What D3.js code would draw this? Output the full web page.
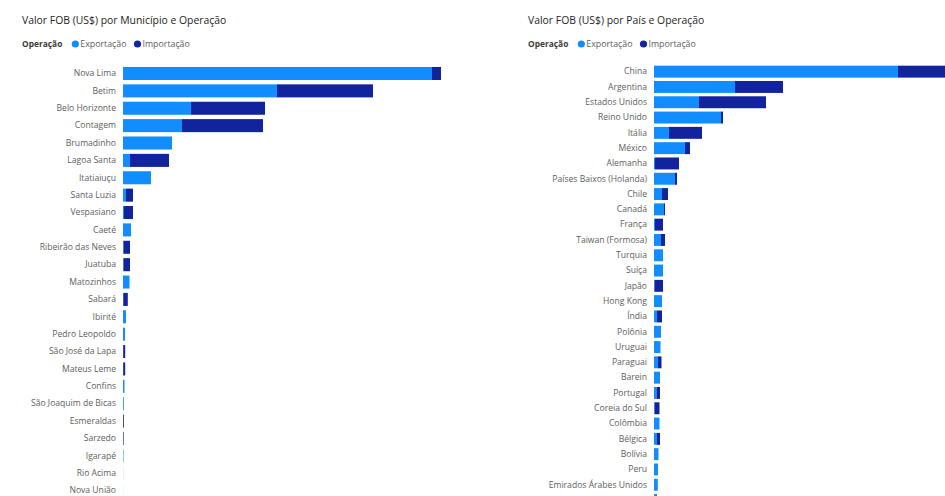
<!DOCTYPE html>
<html>
<head>
<meta charset="utf-8">
<script src="https://cdn.jsdelivr.net/npm/d3@7"></script>
<style>
  html, body { margin: 0; padding: 0; background: #fff; }
  svg { display: block; font-family: "Segoe UI", "Open Sans", "Noto Sans", sans-serif; }
</style>
</head>
<body>
<svg id="chart" width="945" height="496"></svg>
<script>
// Valor FOB (US$ milhões) por município e por país, separado por operação
const municipios = ["Nova Lima", "Betim", "Belo Horizonte", "Contagem", "Brumadinho", "Lagoa Santa",
  "Itatiaiuçu", "Santa Luzia", "Vespasiano", "Caeté", "Ribeirão das Neves", "Juatuba", "Matozinhos",
  "Sabará", "Ibirité", "Pedro Leopoldo", "São José da Lapa", "Mateus Leme", "Confins",
  "São Joaquim de Bicas", "Esmeraldas", "Sarzedo", "Igarapé", "Rio Acima", "Nova União"];
const exportMun = [3090, 1540, 680, 590, 490, 70, 280, 30, 10, 80, 5, 5, 65, 3, 30, 20, 2, 2, 15, 8, 1, 1, 5, 1, 0.5];
const importMun = [90, 960, 740, 810, 0, 390, 0, 70, 90, 0, 65, 65, 0, 45, 0, 0, 20, 20, 0, 0, 8, 6, 0, 0, 0];

const paises = ["China", "Argentina", "Estados Unidos", "Reino Unido", "Itália", "México", "Alemanha",
  "Países Baixos (Holanda)", "Chile", "Canadá", "França", "Taiwan (Formosa)", "Turquia", "Suíça", "Japão",
  "Hong Kong", "Índia", "Polônia", "Uruguai", "Paraguai", "Barein", "Portugal", "Coreia do Sul",
  "Colômbia", "Bélgica", "Bolívia", "Peru", "Emirados Árabes Unidos", "Austrália"];
const exportPais = [2440, 810, 450, 670, 150, 310, 10, 210, 80, 100, 10, 70, 90, 90, 5, 80, 30, 70, 65, 40, 60, 25, 5, 55, 30, 45, 40, 38, 30];
const importPais = [470, 480, 670, 20, 330, 50, 240, 20, 60, 10, 80, 40, 0, 0, 85, 0, 50, 0, 0, 35, 0, 35, 50, 0, 30, 0, 0, 0, 0];

const operacoes = ["Exportação", "Importação"];
const cores = ["#118DFF", "#12239E"];

const W = 945, H = 496;
const svg = d3.select("#chart");
const fonte = "\"Segoe UI\", \"Open Sans\", \"Noto Sans\", sans-serif";

function painel(cfg) {
  const g = svg.append("g");
  const rows = cfg.categorias.map((c, i) => ({ cat: c, Exportação: cfg.exp[i], Importação: cfg.imp[i] }));
  const series = d3.stack().keys(operacoes)(rows);
  const total = d3.max(rows, d => d.Exportação + d.Importação);

  const x = d3.scaleLinear().domain([0, total]).range([cfg.x0, cfg.x1]);
  const y = d3.scaleBand().domain(cfg.categorias).range(cfg.yRange).paddingInner(cfg.pad).paddingOuter(cfg.pad / 2);
  const color = d3.scaleOrdinal().domain(operacoes).range(cores);

  // título
  g.append("text").attr("x", cfg.titleX).attr("y", 23.5)
    .attr("font-size", 10.4).attr("fill", "#252423").text(cfg.titulo);

  // legenda
  const leg = g.append("g").attr("transform", `translate(${cfg.titleX},47)`);
  const lt = leg.append("text").attr("x", 0).attr("y", 0).attr("font-size", 8.4).attr("font-weight", "bold")
    .attr("fill", "#3b3a39").text("Operação");
  let lx = lt.node().getComputedTextLength() + 9.5;
  operacoes.forEach((op, i) => {
    leg.append("circle").attr("cx", lx + 3.5).attr("cy", -3).attr("r", 3.6).attr("fill", cores[i]);
    const t = leg.append("text").attr("x", lx + 8.5).attr("y", 0).attr("font-size", 8.8)
      .attr("fill", "#605E5C").text(op);
    lx += 8.5 + t.node().getComputedTextLength() + 7.5;
  });

  // barras empilhadas
  g.append("g").selectAll("g").data(series).join("g")
    .attr("fill", d => color(d.key))
    .selectAll("rect").data(d => d).join("rect")
    .attr("x", d => x(d[0]))
    .attr("y", d => y(d.data.cat))
    .attr("width", d => Math.max(0, x(d[1]) - x(d[0])))
    .attr("height", y.bandwidth());

  // eixo de categorias (apenas os rótulos que cabem na área visível)
  const visiveis = cfg.categorias.filter(c => y(c) + y.bandwidth() / 2 + 4 <= H);
  const axis = g.append("g").attr("transform", `translate(${cfg.x0 - 2},0)`)
    .call(d3.axisLeft(y).tickValues(visiveis).tickSize(0).tickPadding(5));
  axis.select(".domain").remove();
  axis.selectAll("text").attr("font-size", 8.6).attr("fill", "#605E5C").attr("font-family", fonte);
}

painel({
  titulo: "Valor FOB (US$) por Município e Operação",
  titleX: 22, categorias: municipios, exp: exportMun, imp: importMun,
  x0: 123, x1: 441, yRange: [64.8, 499.3], pad: 0.25
});

painel({
  titulo: "Valor FOB (US$) por País e Operação",
  titleX: 528, categorias: paises, exp: exportPais, imp: importPais,
  x0: 654, x1: W, yRange: [64.0, 507.7], pad: 0.22
});
</script>
</body>
</html>
